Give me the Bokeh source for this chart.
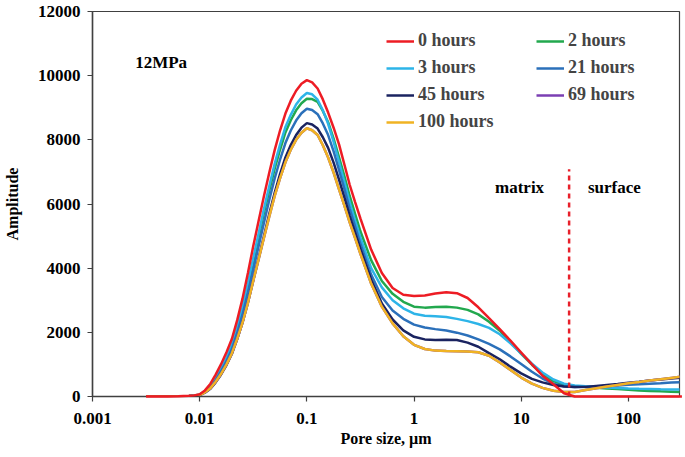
from bokeh.plotting import figure
from bokeh.models import (Range1d, FixedTicker, CustomJSTickFormatter, Legend,
                          LegendItem, Label)
from bokeh.embed import file_html
from bokeh.resources import INLINE

# ---------------- data ----------------
pore_size = [0.00316, 0.00398, 0.00501, 0.00631, 0.00794,
             0.00891, 0.01, 0.0112, 0.0126, 0.0141, 0.0158, 0.0178, 0.02, 0.0224, 0.0251,
             0.0282, 0.0316, 0.0355, 0.0398, 0.0447, 0.0501, 0.0562, 0.0631, 0.0708, 0.0794,
             0.0891, 0.1, 0.112, 0.126, 0.141, 0.158, 0.178, 0.2, 0.224, 0.251, 0.282, 0.316,
             0.398, 0.501, 0.631, 0.794, 1, 1.26, 1.58, 2, 2.51, 3.16, 3.98, 5.01, 6.31,
             7.94, 10, 12.6, 15.8, 20, 25.1, 31.6, 39.8, 50.1, 63.1, 79.4, 100, 126, 158,
             200, 251, 316]

h0 = [0, 0, 0, 5, 20,
      35, 70, 190, 400, 680, 1000, 1380, 1800, 2380, 3050, 3850, 4680, 5480, 6250, 6990,
      7680, 8290, 8820, 9220, 9530, 9750, 9860, 9790, 9600, 9260, 8850, 8370, 7850, 7230,
      6600, 6060, 5550,
      4580, 3850, 3380, 3170, 3130, 3150, 3210, 3250, 3220, 3070, 2780, 2440, 2100, 1740,
      1370, 1000, 650, 380, 100, 0, 0, 0, 0, 0, 0, 0, 0, 0, 0, 0]
h2 = [0, 0, 0, 4, 15,
      28, 55, 160, 320, 550, 830, 1180, 1580, 2110, 2720, 3440, 4200, 4970, 5730, 6430,
      7100, 7690, 8230, 8610, 8920, 9140, 9280, 9270, 9180, 8900, 8550, 8030, 7450, 6870,
      6250, 5690, 5150,
      4250, 3600, 3200, 2950, 2800, 2770, 2790, 2800, 2770, 2700, 2560, 2330, 2050, 1700,
      1330, 990, 700, 480, 360, 320, 295, 270, 250, 230, 210, 190, 175, 160, 148, 135]
h3 = [0, 0, 0, 4, 15,
      28, 55, 165, 330, 565, 850, 1210, 1620, 2160, 2780, 3520, 4300, 5080, 5850, 6570,
      7250, 7850, 8400, 8780, 9100, 9320, 9460, 9420, 9250, 8920, 8500, 7930, 7300, 6690,
      6050, 5480, 4950,
      4000, 3400, 3000, 2750, 2580, 2520, 2500, 2480, 2420, 2350, 2260, 2140, 1940, 1660,
      1340, 1020, 750, 530, 400, 345, 320, 300, 280, 265, 250, 240, 235, 228, 222, 218]
h21 = [0, 0, 0, 3, 12,
       25, 50, 145, 290, 510, 780, 1100, 1480, 1980, 2550, 3230, 3950, 4690, 5420, 6140,
       6800, 7380, 7900, 8290, 8600, 8830, 8970, 8930, 8800, 8510, 8150, 7630, 7050, 6470,
       5850, 5300, 4760,
       3800, 3100, 2680, 2420, 2240, 2150, 2100, 2060, 1990, 1900, 1780, 1640, 1470, 1250,
       1010, 770, 560, 400, 320, 295, 300, 315, 330, 345, 365, 380, 400, 415, 435, 450]
h45 = [0, 0, 0, 2, 10,
       20, 40, 120, 240, 440, 680, 980, 1330, 1790, 2300, 2930, 3620, 4310, 5000, 5700,
       6350, 6930, 7450, 7840, 8150, 8380, 8520, 8480, 8350, 8080, 7750, 7280, 6750, 6210,
       5630, 5110, 4600,
       3650, 2900, 2400, 2060, 1860, 1780, 1760, 1765, 1760, 1680, 1550, 1350, 1160, 930,
       720, 550, 440, 360, 310, 295, 300, 330, 360, 390, 430, 460, 500, 530, 560, 590]
h69 = [0, 0, 0, 3, 12,
       22, 45, 130, 260, 460, 700, 1000, 1350, 1800, 2300, 2920, 3600, 4280, 4950, 5620,
       6250, 6800, 7300, 7690, 8000, 8220, 8360, 8300, 8150, 7830, 7450, 6970, 6450, 5950,
       5430, 4940, 4450,
       3520, 2800, 2280, 1880, 1610, 1480, 1430, 1415, 1410, 1400, 1380, 1270, 1060, 830,
       590, 400, 270, 180, 140, 140, 200, 260, 310, 360, 410, 450, 500, 540, 580, 620]
h100 = [0, 0, 0, 3, 12,
        22, 45, 130, 260, 460, 700, 1000, 1350, 1800, 2300, 2920, 3600, 4280, 4950, 5620,
        6250, 6800, 7300, 7690, 8000, 8220, 8360, 8300, 8150, 7830, 7450, 6970, 6450, 5950,
        5430, 4940, 4450,
        3520, 2800, 2280, 1880, 1610, 1480, 1430, 1415, 1410, 1400, 1380, 1270, 1060, 830,
        590, 400, 270, 180, 140, 140, 200, 260, 310, 360, 410, 450, 500, 540, 580, 620]

series_names = ["0 hours", "2 hours", "3 hours", "21 hours", "45 hours", "69 hours", "100 hours"]
series_values = [h0, h2, h3, h21, h45, h69, h100]
series_colors = ["#ED1C24", "#22A84E", "#2DB4E8", "#2B70BA", "#1A2360", "#7B3FB3", "#F0B323"]

x_ticks = [0.001, 0.01, 0.1, 1, 10, 100]
y_ticks = [0, 2000, 4000, 6000, 8000, 10000, 12000]

boundary_x = 28
boundary_top = 7080

FONT = "Liberation Serif"

# ---------------- figure ----------------
p = figure(width=683, height=453, x_axis_type="log",
           x_range=Range1d(0.001, 300), y_range=Range1d(0, 12000),
           output_backend="svg", toolbar_location=None,
           min_border_left=92, min_border_top=11, min_border_right=4,
           min_border_bottom=57)

p.xgrid.visible = False
p.ygrid.visible = False
p.outline_line_color = "#404040"
p.outline_line_width = 1.2

renderers = {}
for name, vals, col in zip(series_names, series_values, series_colors):
    renderers[name] = p.line(pore_size, vals, line_color=col, line_width=2.5)
renderers["0 hours"].level = "overlay"

p.segment(x0=[boundary_x], y0=[0], x1=[boundary_x], y1=[boundary_top],
          line_color="#E8202A", line_width=2.5, line_dash="5 4")

# axes
for ax in (p.xaxis[0], p.yaxis[0]):
    ax.axis_line_color = "#404040"
    ax.axis_line_width = 1.5
    ax.major_tick_line_color = "#404040"
    ax.major_tick_line_width = 1.2
    ax.major_tick_in = 0
    ax.major_tick_out = 5
    ax.minor_tick_line_color = None
    ax.major_label_text_font = FONT
    ax.major_label_text_font_style = "bold"
    ax.major_label_text_font_size = "17px"
    ax.major_label_text_color = "black"
    ax.axis_label_text_font = FONT
    ax.axis_label_text_font_style = "bold"
    ax.axis_label_text_font_size = "16px"
    ax.axis_label_text_color = "black"

p.xaxis.ticker = FixedTicker(ticks=x_ticks)
p.xaxis.formatter = CustomJSTickFormatter(code="return tick.toString();")
p.xaxis.axis_label = "Pore size, µm"
p.xaxis.major_label_standoff = 11
p.xaxis.axis_label_standoff = 3

p.yaxis.ticker = FixedTicker(ticks=y_ticks)
p.yaxis.axis_label = "Amplitude"
p.yaxis.major_label_standoff = 7
p.yaxis.axis_label_standoff = 14

# legend: two columns, filled column by column -> order gives row-wise reading
legend_order = ["0 hours", "3 hours", "45 hours", "100 hours", "2 hours", "21 hours", "69 hours"]
items = [LegendItem(label=n, renderers=[renderers[n]]) for n in legend_order]
legend = Legend(items=items, ncols=2, location=(294, 264), padding=0,
                spacing=6, label_width=112, glyph_width=28, glyph_height=20,
                label_standoff=4, border_line_alpha=0, background_fill_alpha=0,
                label_text_font=FONT, label_text_font_style="bold",
                label_text_font_size="18px", margin=0)
p.add_layout(legend)

# annotations
for txt, xx, yy in [("12MPa", 0.0025, 10400), ("matrix", 5.7, 6500), ("surface", 42, 6500)]:
    p.add_layout(Label(x=xx, y=yy, text=txt, text_font=FONT, text_font_style="bold",
                       text_font_size="17px", text_baseline="middle", text_color="black"))

open("out.html", "w").write(file_html(p, INLINE))
